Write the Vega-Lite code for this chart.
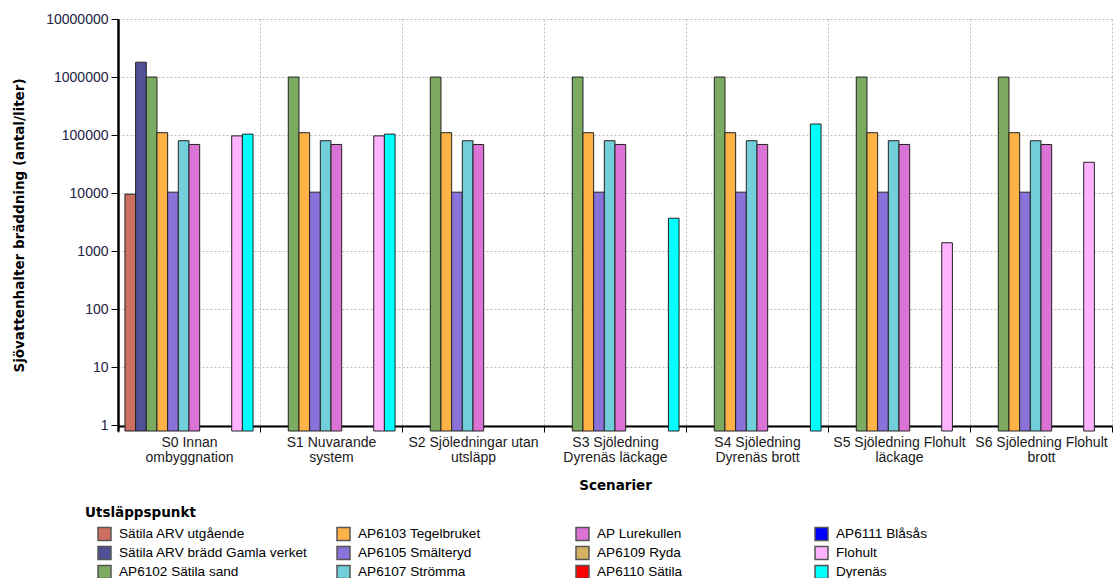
{
  "$schema": "https://vega.github.io/schema/vega-lite/v6.json",
  "autosize": {"type": "none"},
  "padding": {"left": 118, "top": 19, "right": 1, "bottom": 147},
  "width": 994,
  "height": 412,
  "background": "white",
  "config": {"view": {"stroke": null}},
  "data": {
    "values": [
      {"scenario": "S0 Innan\nombyggnation", "punkt": "Sätila ARV utgående", "value": 9600},
      {"scenario": "S0 Innan\nombyggnation", "punkt": "Sätila ARV brädd Gamla verket", "value": 1800000},
      {"scenario": "S0 Innan\nombyggnation", "punkt": "AP6102 Sätila sand", "value": 1000000},
      {"scenario": "S0 Innan\nombyggnation", "punkt": "AP6103 Tegelbruket", "value": 110000},
      {"scenario": "S0 Innan\nombyggnation", "punkt": "AP6105 Smälteryd", "value": 10400},
      {"scenario": "S0 Innan\nombyggnation", "punkt": "AP6107 Strömma", "value": 80000},
      {"scenario": "S0 Innan\nombyggnation", "punkt": "AP Lurekullen", "value": 69000},
      {"scenario": "S0 Innan\nombyggnation", "punkt": "Flohult", "value": 97000},
      {"scenario": "S0 Innan\nombyggnation", "punkt": "Dyrenäs", "value": 104000},
      {"scenario": "S1 Nuvarande\nsystem", "punkt": "AP6102 Sätila sand", "value": 1000000},
      {"scenario": "S1 Nuvarande\nsystem", "punkt": "AP6103 Tegelbruket", "value": 110000},
      {"scenario": "S1 Nuvarande\nsystem", "punkt": "AP6105 Smälteryd", "value": 10400},
      {"scenario": "S1 Nuvarande\nsystem", "punkt": "AP6107 Strömma", "value": 80000},
      {"scenario": "S1 Nuvarande\nsystem", "punkt": "AP Lurekullen", "value": 69000},
      {"scenario": "S1 Nuvarande\nsystem", "punkt": "Flohult", "value": 97000},
      {"scenario": "S1 Nuvarande\nsystem", "punkt": "Dyrenäs", "value": 104000},
      {"scenario": "S2 Sjöledningar utan\nutsläpp", "punkt": "AP6102 Sätila sand", "value": 1000000},
      {"scenario": "S2 Sjöledningar utan\nutsläpp", "punkt": "AP6103 Tegelbruket", "value": 110000},
      {"scenario": "S2 Sjöledningar utan\nutsläpp", "punkt": "AP6105 Smälteryd", "value": 10400},
      {"scenario": "S2 Sjöledningar utan\nutsläpp", "punkt": "AP6107 Strömma", "value": 80000},
      {"scenario": "S2 Sjöledningar utan\nutsläpp", "punkt": "AP Lurekullen", "value": 69000},
      {"scenario": "S3 Sjöledning\nDyrenäs läckage", "punkt": "AP6102 Sätila sand", "value": 1000000},
      {"scenario": "S3 Sjöledning\nDyrenäs läckage", "punkt": "AP6103 Tegelbruket", "value": 110000},
      {"scenario": "S3 Sjöledning\nDyrenäs läckage", "punkt": "AP6105 Smälteryd", "value": 10400},
      {"scenario": "S3 Sjöledning\nDyrenäs läckage", "punkt": "AP6107 Strömma", "value": 80000},
      {"scenario": "S3 Sjöledning\nDyrenäs läckage", "punkt": "AP Lurekullen", "value": 69000},
      {"scenario": "S3 Sjöledning\nDyrenäs läckage", "punkt": "Dyrenäs", "value": 3700},
      {"scenario": "S4 Sjöledning\nDyrenäs brott", "punkt": "AP6102 Sätila sand", "value": 1000000},
      {"scenario": "S4 Sjöledning\nDyrenäs brott", "punkt": "AP6103 Tegelbruket", "value": 110000},
      {"scenario": "S4 Sjöledning\nDyrenäs brott", "punkt": "AP6105 Smälteryd", "value": 10400},
      {"scenario": "S4 Sjöledning\nDyrenäs brott", "punkt": "AP6107 Strömma", "value": 80000},
      {"scenario": "S4 Sjöledning\nDyrenäs brott", "punkt": "AP Lurekullen", "value": 69000},
      {"scenario": "S4 Sjöledning\nDyrenäs brott", "punkt": "Dyrenäs", "value": 155000},
      {"scenario": "S5 Sjöledning Flohult\nläckage", "punkt": "AP6102 Sätila sand", "value": 1000000},
      {"scenario": "S5 Sjöledning Flohult\nläckage", "punkt": "AP6103 Tegelbruket", "value": 110000},
      {"scenario": "S5 Sjöledning Flohult\nläckage", "punkt": "AP6105 Smälteryd", "value": 10400},
      {"scenario": "S5 Sjöledning Flohult\nläckage", "punkt": "AP6107 Strömma", "value": 80000},
      {"scenario": "S5 Sjöledning Flohult\nläckage", "punkt": "AP Lurekullen", "value": 69000},
      {"scenario": "S5 Sjöledning Flohult\nläckage", "punkt": "Flohult", "value": 1400},
      {"scenario": "S6 Sjöledning Flohult\nbrott", "punkt": "AP6102 Sätila sand", "value": 1000000},
      {"scenario": "S6 Sjöledning Flohult\nbrott", "punkt": "AP6103 Tegelbruket", "value": 110000},
      {"scenario": "S6 Sjöledning Flohult\nbrott", "punkt": "AP6105 Smälteryd", "value": 10400},
      {"scenario": "S6 Sjöledning Flohult\nbrott", "punkt": "AP6107 Strömma", "value": 80000},
      {"scenario": "S6 Sjöledning Flohult\nbrott", "punkt": "AP Lurekullen", "value": 69000},
      {"scenario": "S6 Sjöledning Flohult\nbrott", "punkt": "Flohult", "value": 34000}
    ]
  },
  "mark": {"type": "bar", "stroke": "#222222", "strokeWidth": 1, "opacity": 1, "fillOpacity": 1},
  "encoding": {
    "x": {
      "field": "scenario",
      "type": "nominal",
      "sort": null,
      "scale": {"paddingInner": 0, "paddingOuter": 0},
      "axis": {
        "title": "Scenarier",
        "titleFont": "DejaVu Sans",
        "titleFontSize": 13.5,
        "titleFontWeight": "bold",
        "titleColor": "black",
        "titlePadding": 14,
        "labelAngle": 0,
        "labelFont": "Liberation Sans",
        "labelFontSize": 14,
        "labelColor": "#1a1a1a",
        "labelExpr": "isString(datum.value) ? split(datum.value, '\\n') : ''",
        "labelLineHeight": 15.5,
        "labelBaseline": "top",
        "labelPadding": 3,
        "labelLimit": 200,
        "offset": -5,
        "domainColor": "black",
        "domainWidth": 2,
        "tickColor": "black",
        "tickSize": 6,
        "tickWidth": 1,
        "tickBand": "extent",
        "grid": true,
        "gridColor": "#bbbbbb",
        "gridDash": [2, 2],
        "gridWidth": 1
      }
    },
    "xOffset": {
      "field": "punkt",
      "type": "nominal",
      "scale": {
        "domain": ["Sätila ARV utgående", "Sätila ARV brädd Gamla verket", "AP6102 Sätila sand", "AP6103 Tegelbruket", "AP6105 Smälteryd", "AP6107 Strömma", "AP Lurekullen", "AP6109 Ryda", "AP6110 Sätila", "AP6111 Blåsås", "Flohult", "Dyrenäs"],
        "paddingInner": 0,
        "paddingOuter": 0.65
      }
    },
    "y": {
      "field": "value",
      "type": "quantitative",
      "scale": {"type": "log", "domain": [0.8, 10000000], "nice": false},
      "axis": {
        "values": [1, 10, 100, 1000, 10000, 100000, 1000000, 10000000],
        "format": "d",
        "title": "Sjövattenhalter bräddning (antal/liter)",
        "titleFont": "DejaVu Sans",
        "titleFontSize": 13.5,
        "titleFontWeight": "bold",
        "titleColor": "black",
        "titlePadding": 19,
        "labelFont": "Liberation Sans",
        "labelFontSize": 14,
        "labelColor": "#222244",
        "labelPadding": 3,
        "domainColor": "black",
        "domainWidth": 2.5,
        "tickColor": "black",
        "tickSize": 7,
        "tickWidth": 1,
        "grid": true,
        "gridColor": "#bbbbbb",
        "gridDash": [2, 2],
        "gridWidth": 1
      }
    },
    "y2": {"datum": 0.8},
    "color": {
      "field": "punkt",
      "type": "nominal",
      "scale": {
        "domain": ["Sätila ARV utgående", "Sätila ARV brädd Gamla verket", "AP6102 Sätila sand", "AP6103 Tegelbruket", "AP6105 Smälteryd", "AP6107 Strömma", "AP Lurekullen", "AP6109 Ryda", "AP6110 Sätila", "AP6111 Blåsås", "Flohult", "Dyrenäs"],
        "range": ["#CC6F60", "#4F5096", "#7BAA60", "#FFB347", "#8A72DB", "#72CEDB", "#DB72D6", "#D4B060", "#FF0000", "#0000FF", "#FFB3FF", "#00FFFF"]
      },
      "legend": {
        "title": "Utsläppspunkt",
        "orient": "none",
        "legendX": -33,
        "legendY": 487,
        "direction": "vertical",
        "columns": 4,
        "gridAlign": "all",
        "columnPadding": 16,
        "rowPadding": 0,
        "symbolType": "square",
        "symbolSize": 169,
        "symbolOffset": 12,
        "symbolStrokeColor": "#555555",
        "symbolStrokeWidth": 1.5,
        "symbolOpacity": 1,
        "labelFont": "Liberation Sans",
        "labelFontSize": 13.6,
        "labelColor": "black",
        "labelLimit": 300,
        "labelOffset": 7,
        "titleFont": "DejaVu Sans",
        "titleFontSize": 13.5,
        "titleFontWeight": "bold",
        "titleColor": "black",
        "titlePadding": 7
      }
    }
  }
}
